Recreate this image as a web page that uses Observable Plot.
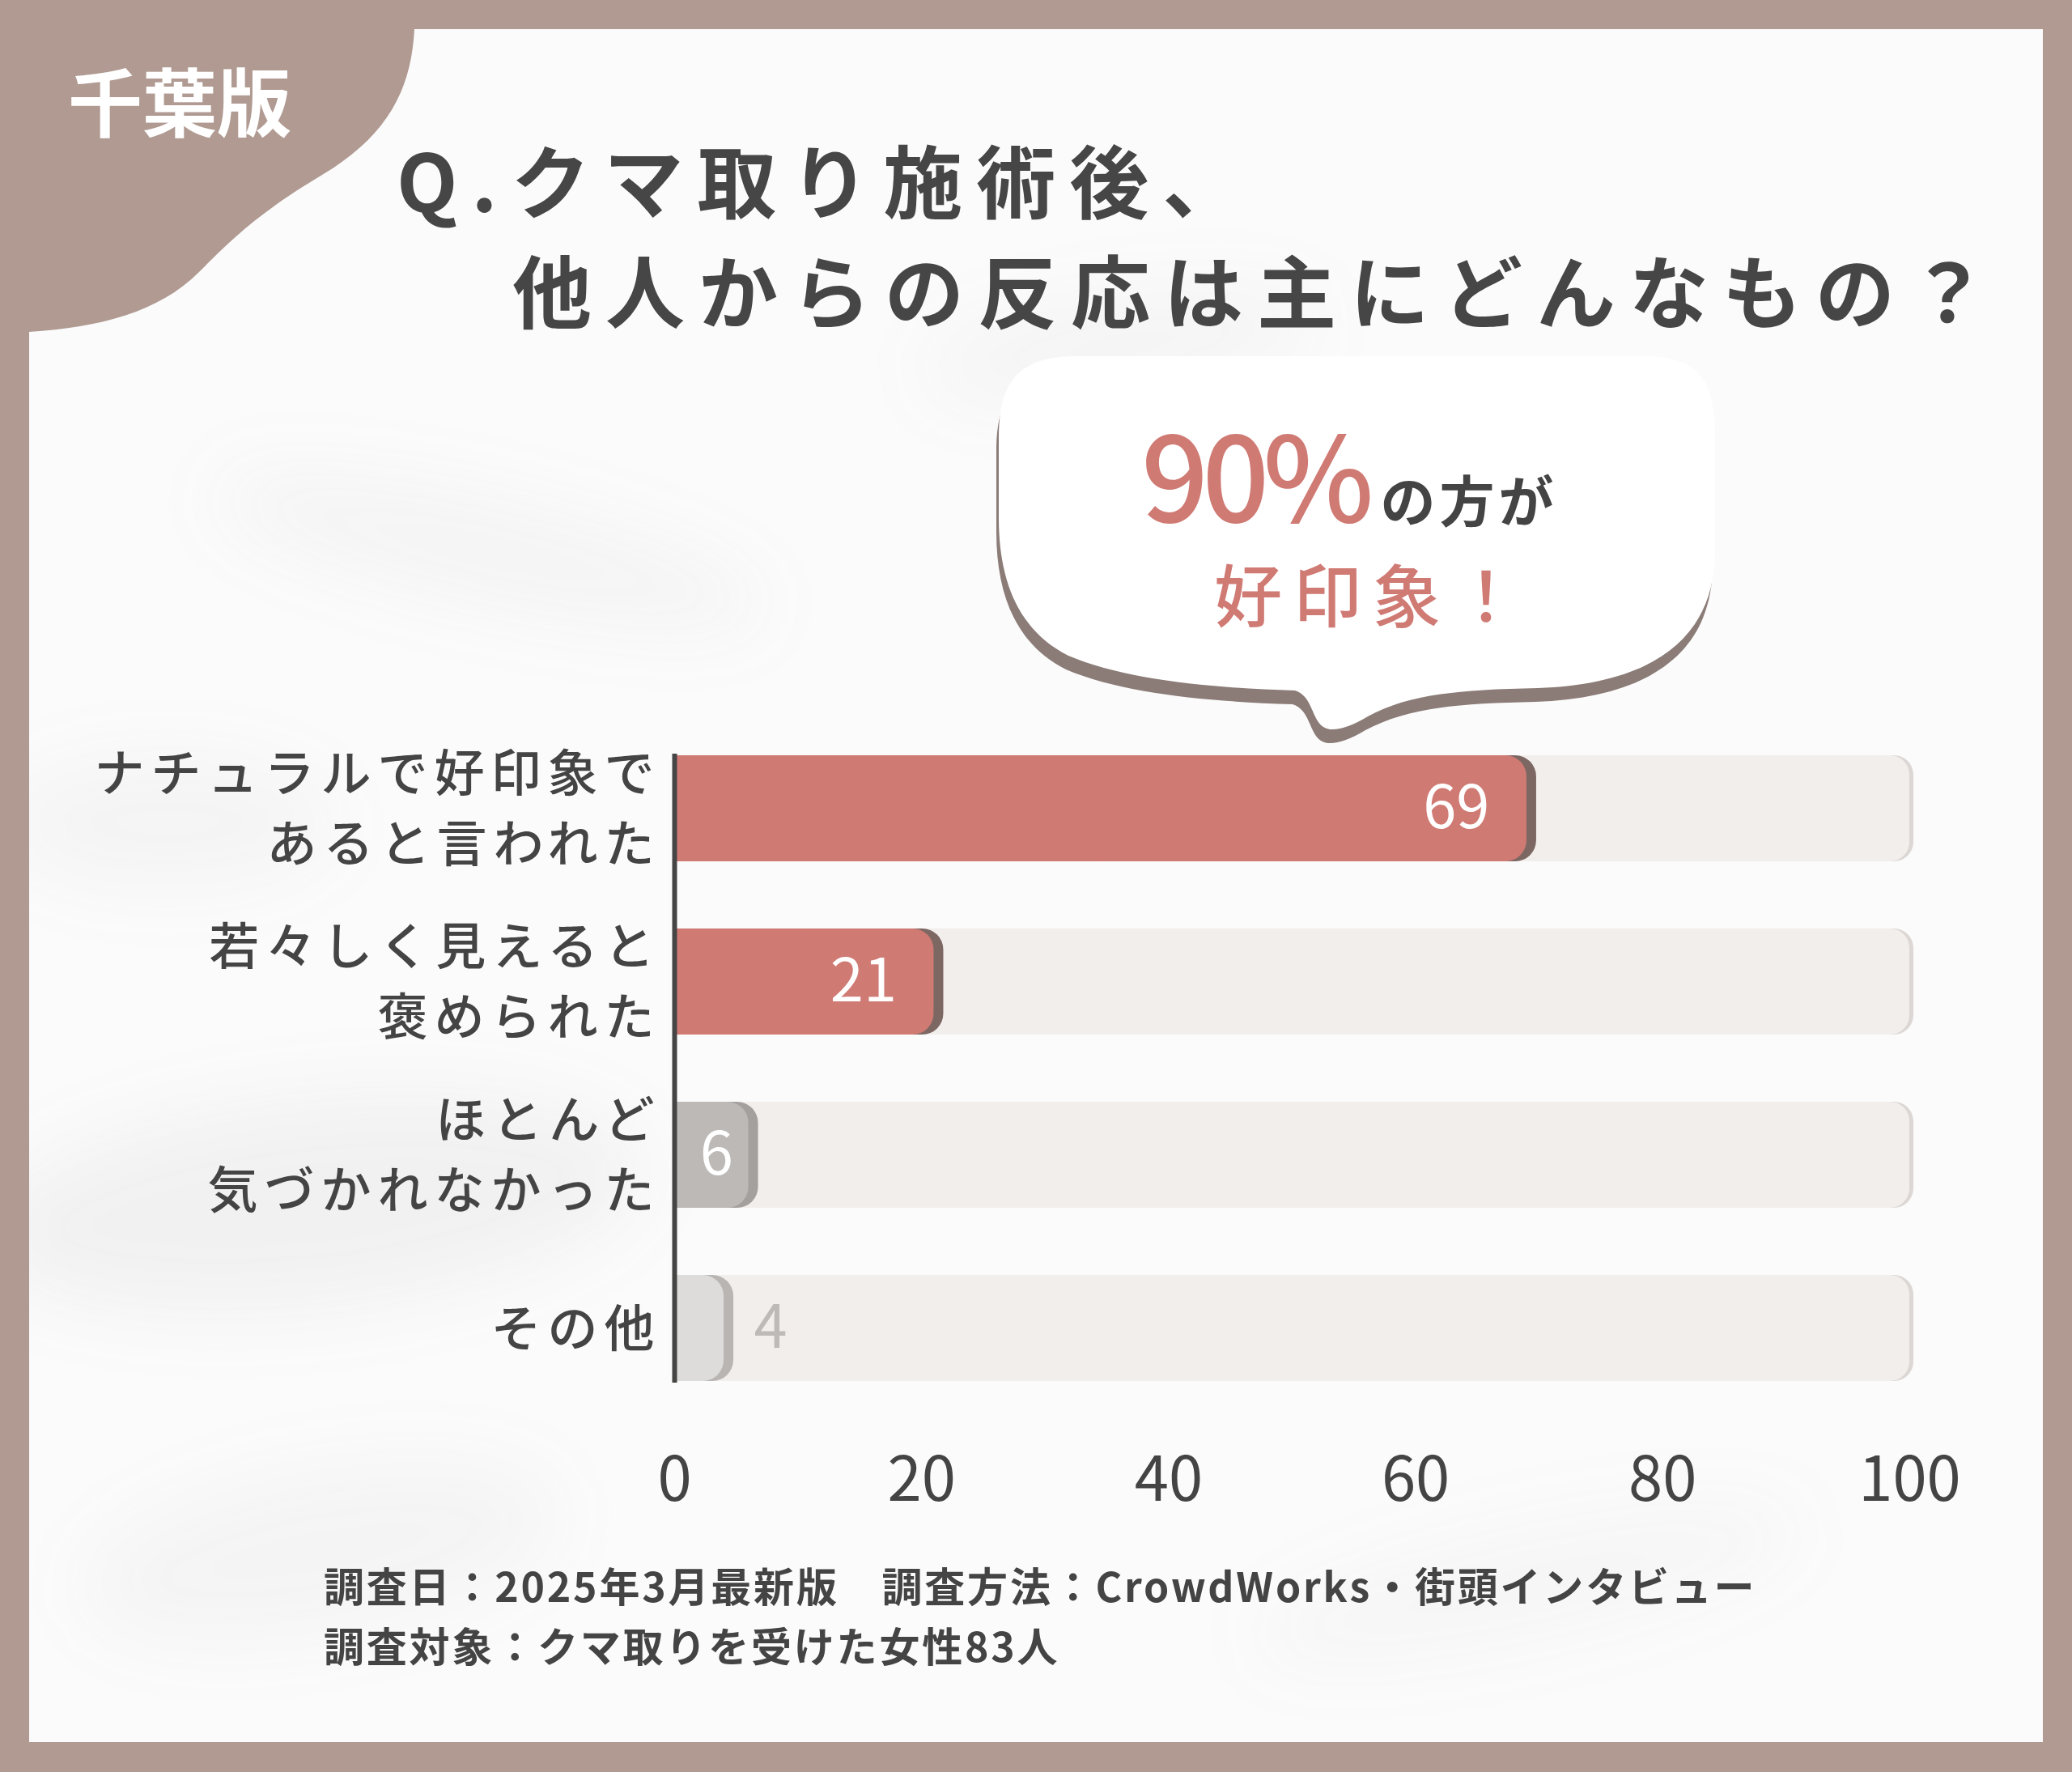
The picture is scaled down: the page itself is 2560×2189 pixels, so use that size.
<!DOCTYPE html>
<html lang="ja">
<head>
<meta charset="utf-8">
<script src="https://cdn.jsdelivr.net/npm/d3@7"></script>
<script src="https://cdn.jsdelivr.net/npm/@observablehq/plot@0.6"></script>
<style>
  html, body { margin: 0; padding: 0; }
  body {
    width: 2560px; height: 2189px; position: relative; overflow: hidden;
    background: #b09a92;
    font-family: "Noto Sans CJK JP", "Noto Sans", sans-serif;
    color: #444;
  }
  #panel {
    position: absolute; left: 36px; top: 36px; width: 2488px; height: 2116px;
    background: #fbfbfb; overflow: hidden;
  }
  .blob { position: absolute; background: rgba(120,120,120,0.055); filter: blur(45px); border-radius: 50%; }
  .abs { position: absolute; white-space: pre; line-height: 1; }
  #chart { position: absolute; left: 0; top: 880px; }
  #chart svg { overflow: visible; }
  #chart g[aria-label="y-axis tick label"] text { letter-spacing: 8px; }
</style>
</head>
<body>
<div id="panel">
  <div class="blob" style="left:220px; top:580px; width:700px; height:130px; transform:rotate(12deg);"></div>
  <div class="blob" style="left:-60px; top:1320px; width:820px; height:260px; transform:rotate(-6deg); background:rgba(120,120,120,0.07)"></div>
  <div class="blob" style="left:-40px; top:900px; width:420px; height:160px; background:rgba(120,120,120,0.05)"></div>
  <div class="blob" style="left:1100px; top:330px; width:500px; height:120px; transform:rotate(-8deg); background:rgba(120,120,120,0.05)"></div>
  <div class="blob" style="left:60px; top:1780px; width:600px; height:200px; transform:rotate(-10deg); background:rgba(120,120,120,0.05)"></div>
  <div class="blob" style="left:1500px; top:1850px; width:700px; height:140px; transform:rotate(-12deg); background:rgba(120,120,120,0.04)"></div>
</div>

<!-- corner tab and speech bubble (decoration) -->
<svg width="2560" height="2189" style="position:absolute;left:0;top:0;pointer-events:none">
  <path d="M0,0 L512,0 L512,36 C508,112 478,168 398,216 C318,264 286,296 246,336 C196,386 124,404 36,410 L0,410 Z" fill="#b09a92"/>
  <path transform="translate(-3,17)" fill="#8b7c77" d="M1330,440 L2030,440 C2100,440 2119,470 2119,540 L2119,680 C2119,790 2040,845 1900,850 C1800,852 1740,858 1690,885 C1665,900 1645,905 1635,898 C1620,888 1622,860 1600,853 C1500,850 1390,840 1320,810 C1260,780 1234,720 1234,640 L1234,540 C1234,470 1260,440 1330,440 Z"/>
  <path fill="#ffffff" d="M1330,440 L2030,440 C2100,440 2119,470 2119,540 L2119,680 C2119,790 2040,845 1900,850 C1800,852 1740,858 1690,885 C1665,900 1645,905 1635,898 C1620,888 1622,860 1600,853 C1500,850 1390,840 1320,810 C1260,780 1234,720 1234,640 L1234,540 C1234,470 1260,440 1330,440 Z"/>
</svg>

<div class="abs" style="left:84px; top:76px; font-size:92px; font-weight:700; color:#fff;">千葉版</div>

<div class="abs" style="left:490px; top:170px; font-size:98px; font-weight:700; letter-spacing:17px; color:#464646;">Q.クマ取り施術後、</div>
<div class="abs" style="left:633px; top:306px; font-size:98px; font-weight:700; letter-spacing:17px; color:#464646;">他人からの反応は主にどんなもの？</div>

<div class="abs" style="left:1410px; top:520px; display:flex; align-items:baseline; line-height:0.85;">
  <span style="font-size:146px; font-weight:500; color:#d07a74; letter-spacing:-8px;">90%</span>
  <span style="font-size:68px; font-weight:700; color:#444; letter-spacing:5px; margin-left:16px;">の方が</span>
</div>
<div class="abs" style="left:1500px; top:690px; font-size:84px; font-weight:500; color:#d07a74; letter-spacing:14px;">好印象！</div>

<div id="chart"></div>

<div class="abs" style="left:400px; top:1932px; font-size:50px; font-weight:700; letter-spacing:2.8px; color:#444;">調査日：2025年3月最新版　調査方法：CrowdWorks・街頭インタビュー</div>
<div class="abs" style="left:400px; top:2006px; font-size:50px; font-weight:700; letter-spacing:2.8px; color:#444;">調査対象：クマ取りを受けた女性83人</div>

<script>
// ---- data ----
const categories = [
  "ナチュラルで好印象で\nあると言われた",
  "若々しく見えると\n褒められた",
  "ほとんど\n気づかれなかった",
  "その他"
];
const values = [69, 21, 6, 4];
const xTicks = [0, 20, 40, 60, 80, 100];

// ---- styles ----
const barFill = ["#d07a74", "#d07a74", "#bdb9b7", "#dedcdb"];
const barEdge = ["#7d6763", "#7d6763", "#a4a09e", "#b9b5b3"];
const xMax = xTicks[xTicks.length - 1];

const rows = categories.map((c, i) => ({category: c, value: values[i], i}));

const chart = Plot.plot({
  width: 2560,
  height: 1000,
  marginLeft: 833,
  marginRight: 201,
  marginTop: 51,
  marginBottom: 172,
  style: {
    fontFamily: "'Noto Sans CJK JP', 'Noto Sans', sans-serif",
    background: "transparent",
    color: "#444",
    overflow: "visible"
  },
  x: {domain: [0, xMax]},
  y: {domain: categories, paddingInner: 0.386, paddingOuter: 0},
  marks: [
    // background track
    Plot.barX(rows, {y: "category", x1: 0, x2: xMax, fill: "#dcd7d4", dx: 5, rx: 24}),
    Plot.barX(rows, {y: "category", x1: 0, x2: xMax, fill: "#f2eeec", rx: 24}),
    // bar 3D edge
    Plot.barX(rows, {y: "category", x1: 0, x2: "value", fill: d => barEdge[d.i], dx: 12, rx: 26}),
    // bar body
    Plot.barX(rows, {y: "category", x1: 0, x2: "value", fill: d => barFill[d.i], rx: 26}),
    Plot.barX(rows, {y: "category", x1: 0, x2: d => d.value / 2, fill: d => barFill[d.i]}),
    // axis line
    Plot.ruleX([0], {stroke: "#454545", strokeWidth: 6}),
    // value labels: wide bars (label at end), narrow bar (label centred), tiny bar (label outside)
    Plot.text(rows.filter(d => d.value >= 10), {
      x: "value", y: "category", text: d => String(d.value),
      textAnchor: "end", dx: -46, fill: "#ffffff", fontSize: 74, fontWeight: 400
    }),
    Plot.text(rows.filter(d => d.value > 5 && d.value < 10), {
      x: d => d.value / 2, y: "category", text: d => String(d.value),
      textAnchor: "middle", dx: 6, fill: "#ffffff", fontSize: 74, fontWeight: 400
    }),
    Plot.text(rows.filter(d => d.value <= 5), {
      x: "value", y: "category", text: d => String(d.value),
      textAnchor: "start", dx: 37, fill: "#bdbab8", fontSize: 74, fontWeight: 400
    }),
    Plot.axisX({ticks: xTicks, tickSize: 0, tickPadding: 92, fontSize: 76, fill: "#444", label: null}),
    Plot.axisY({tickSize: 0, tickPadding: 17, dy: -5, fontSize: 62, lineHeight: 1.4, fill: "#444", fontWeight: 500, label: null})
  ]
});
document.getElementById("chart").appendChild(chart);
</script>
</body>
</html>
